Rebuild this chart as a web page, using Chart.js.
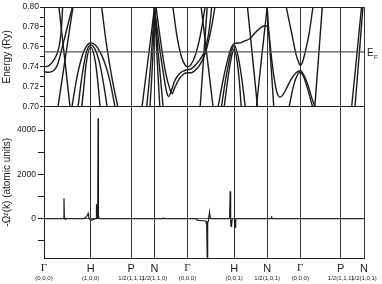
<!DOCTYPE html>
<html>
<head>
<meta charset="utf-8">
<script src="https://cdn.jsdelivr.net/npm/chart.js@4.4.1/dist/chart.umd.min.js"></script>
<style>
  html, body { margin: 0; padding: 0; background: #fff; }
  canvas { display: block; }
</style>
</head>
<body>
<canvas id="bands" width="382" height="284" style="width:382px;height:284px"></canvas>
<script>
// k-path (high symmetry points), in units of 2pi/a
const kTicks = [0, 1, 1.866, 2.366, 3.073, 4.073, 4.780, 5.487, 6.353, 6.853];
const symLabels = ['Γ', 'H', 'P', 'N', 'Γ', 'H', 'N', 'Γ', 'P', 'N'];
const coordLabels = ['(0,0,0)', '(1,0,0)', '1/2(1,1,1)', '1/2(1,1,0)', '(0,0,0)',
  '(0,0,1)', '1/2(1,0,1)', '(0,0,0)', '1/2(1,1,1)', '1/2(1,0,1)'];

const EF = 0.755;
const energyTicks = [0.70, 0.71, 0.72, 0.73, 0.74, 0.75, 0.76, 0.77, 0.78, 0.79, 0.80];
const berryTicks = [-1000, 0, 1000, 2000, 3000, 4000];

// bands, [k, E (Ry)]
const bandA = [[0,0.740],[0.1,0.741],[0.2,0.746],[0.28,0.753],[0.33,0.762],[0.37,0.777],[0.40,0.800]];
const bandB = [[0,0.735],[0.1,0.7345],[0.2,0.736],[0.28,0.741],[0.35,0.752],[0.42,0.765],[0.5,0.780],[0.58,0.795],[0.61,0.800]];
const lineC = [[0.32,0.800],[0.557,0.700]];
const lineD = [[0.30,0.700],[0.62,0.800]];
const hump1 = [[0.60,0.700],[0.70,0.728],[0.80,0.748],[0.90,0.760],[1.0,0.764],[1.1,0.762],[1.2,0.755],[1.3,0.744],[1.4,0.728],[1.52,0.700]];
const hump2 = [[0.73,0.700],[0.80,0.726],[0.90,0.753],[1.0,0.762],[1.1,0.757],[1.2,0.742],[1.3,0.716],[1.35,0.700]];
const hump3 = [[0.81,0.700],[0.85,0.718],[0.90,0.742],[1.0,0.760],[1.1,0.745],[1.15,0.726],[1.2,0.700]];
const lineE = [[1.236,0.800],[1.33,0.765],[1.45,0.730],[1.58,0.700]];
const nArm1 = [[2.10,0.700],[2.20,0.737],[2.30,0.774],[2.366,0.800]];
const nArm2 = [[2.20,0.700],[2.28,0.740],[2.366,0.800]];
const nArm3 = [[2.27,0.700],[2.33,0.750],[2.366,0.800]];
const nArmR1 = [[2.366,0.800],[2.42,0.750],[2.48,0.700]];
const nArmR2 = [[2.366,0.800],[2.45,0.752],[2.55,0.700]];
const vBand1 = [[2.366,0.800],[2.45,0.768],[2.55,0.735],[2.62,0.716],[2.666,0.710],[2.72,0.715],[2.80,0.726],[2.90,0.733],[3.0,0.736],[3.073,0.737]];
const vBand2 = [[2.40,0.800],[2.50,0.765],[2.60,0.735],[2.70,0.717],[2.74,0.713],[2.80,0.719],[2.90,0.728],[3.0,0.733],[3.073,0.734]];
const para1 = [[2.76,0.800],[2.85,0.770],[2.95,0.749],[3.02,0.742],[3.073,0.740],[3.15,0.7425],[3.25,0.753],[3.35,0.772],[3.45,0.800]];
const bandA2 = [[3.073,0.737],[3.15,0.738],[3.25,0.742],[3.35,0.748],[3.45,0.757],[3.52,0.772],[3.57,0.790],[3.59,0.800]];
const bandB2 = [[3.073,0.734],[3.15,0.734],[3.25,0.737],[3.35,0.743],[3.45,0.753],[3.52,0.765],[3.60,0.783],[3.66,0.800]];
const lineC2 = [[3.366,0.800],[3.62,0.700]];
const lineD2 = [[3.345,0.700],[3.495,0.800]];
const hump4 = [[3.73,0.700],[3.85,0.730],[3.95,0.750],[4.02,0.760],[4.073,0.7635],[4.2,0.764],[4.3,0.766],[4.41,0.7685],[4.5,0.773],[4.62,0.7786],[4.72,0.781],[4.78,0.781],
  [4.82,0.772],[4.87,0.750],[4.93,0.728],[4.99,0.714],[5.058,0.7095],[5.12,0.712],[5.2,0.719],[5.3,0.728],[5.4,0.734],[5.487,0.736],[5.55,0.733],[5.65,0.722],[5.74,0.708],[5.80,0.700]];
const hump5 = [[3.80,0.700],[3.90,0.730],[4.0,0.753],[4.073,0.7615],[4.15,0.752],[4.23,0.730],[4.31,0.700]];
const hump6 = [[3.86,0.700],[3.95,0.732],[4.02,0.751],[4.073,0.758],[4.13,0.747],[4.18,0.727],[4.223,0.700]];
const lineF = [[4.358,0.800],[4.572,0.700]];
const nArm4 = [[4.55,0.700],[4.65,0.745],[4.78,0.800]];
const nArm5 = [[4.78,0.800],[4.85,0.750],[4.92,0.700]];
const para2 = [[5.187,0.800],[5.25,0.786],[5.32,0.770],[5.40,0.752],[5.45,0.745],[5.487,0.7413],[5.53,0.744],[5.60,0.756],[5.68,0.774],[5.759,0.800]];
const capBand = [[5.25,0.700],[5.35,0.722],[5.43,0.732],[5.487,0.7345],[5.55,0.731],[5.65,0.717],[5.75,0.700]];
const lineG = [[5.80,0.700],[5.96,0.800]];
const pnLine1 = [[6.589,0.700],[6.70,0.752],[6.80,0.800]];
const pnLine2 = [[6.66,0.700],[6.75,0.752],[6.83,0.800]];

const bands = [bandA, bandB, lineC, lineD, hump1, hump2, hump3, lineE, nArm1, nArm2, nArm3,
  nArmR1, nArmR2, vBand1, vBand2, para1, bandA2, bandB2, lineC2, lineD2, hump4, hump5, hump6,
  lineF, nArm4, nArm5, para2, capBand, lineG, pnLine1, pnLine2];

// Berry curvature -Omega^z(k), atomic units
const berry = [[0,0],[0.40,0],[0.42,15],[0.428,920],[0.436,25],[0.45,-20],[0.47,0],
  [0.86,0],[0.90,80],[0.93,170],[0.945,240],[0.955,120],[0.965,0],[0.99,-40],[1.02,-60],[1.06,-30],
  [1.10,0],[1.115,0],[1.12,650],[1.128,30],[1.15,40],[1.158,4530],[1.166,100],[1.18,0],
  [2.54,0],[2.555,40],[2.57,0],
  [3.25,0],[3.28,-60],[3.40,-90],[3.47,-110],[3.485,-300],[3.495,-1730],[3.505,-200],[3.52,-100],[3.545,300],[3.56,20],[3.58,0],
  [3.95,0],[3.975,20],[3.987,1235],[3.997,-50],[4.005,-350],[4.015,-340],[4.03,0],[4.08,0],[4.095,-380],[4.105,-20],[4.12,0],
  [4.86,0],[4.875,70],[4.89,0],[6.853,0]];

const ink = '#1a1a1a';
const sans = "'Liberation Sans', Arial, sans-serif";
const toXY = (arr) => arr.map(p => ({ x: p[0], y: p[1] }));
const near = (a, b) => Math.abs(a - b) < 1e-6;

const datasets = [{
  data: toXY([[0, EF], [kTicks[kTicks.length - 1], EF]]),
  yAxisID: 'yE', borderColor: '#555', borderWidth: 1.3, pointRadius: 0
}];
bands.forEach(b => datasets.push({
  data: toXY(b), yAxisID: 'yE', borderColor: ink, borderWidth: 1.4,
  pointRadius: 0, cubicInterpolationMode: 'monotone'
}));
datasets.push({
  data: toXY(berry), yAxisID: 'yB', borderColor: ink, borderWidth: 1.2,
  pointRadius: 0, tension: 0
});

const setTicks = (vals) => (scale) => { scale.ticks = vals.map(v => ({ value: v })); };

// E_F marker and the small coordinate line under each k label
const extraText = {
  id: 'extraText',
  afterDraw(chart) {
    const ctx = chart.ctx;
    const area = chart.chartArea;
    const y = chart.scales.yE.getPixelForValue(EF);
    const x = area.right + 3;
    ctx.save();
    ctx.fillStyle = ink;
    ctx.textBaseline = 'middle';
    ctx.font = '10px ' + sans;
    ctx.fillText('E', x, y + 1);
    ctx.font = '6px ' + sans;
    ctx.fillText('F', x + 7, y + 5);

    const xs = chart.scales.x;
    ctx.textAlign = 'center';
    ctx.font = '6px ' + sans;
    kTicks.forEach((k, i) => {
      ctx.fillText(coordLabels[i], xs.getPixelForValue(k), area.bottom + 20);
    });
    ctx.restore();
  }
};

new Chart(document.getElementById('bands'), {
  type: 'line',
  data: { datasets },
  plugins: [extraText],
  options: {
    responsive: false,
    animation: false,
    devicePixelRatio: 1,
    layout: { padding: { top: 7, right: 18, bottom: 0, left: 0 } },
    plugins: { legend: { display: false }, tooltip: { enabled: false } },
    scales: {
      x: {
        type: 'linear', min: 0, max: 6.853, position: 'bottom',
        afterBuildTicks: setTicks(kTicks),
        afterFit: (s) => { s.height = 26; },
        grid: { color: '#333', lineWidth: 1, drawTicks: false },
        border: { color: ink },
        ticks: {
          autoSkip: false, maxRotation: 0, minRotation: 0, padding: 4, color: ink,
          callback: (v, i) => symLabels[i],
          font: (c) => ({
            family: symLabels[c.index] === 'Γ' ? "'Liberation Serif', serif" : sans,
            size: 11
          })
        }
      },
      yB: {
        type: 'linear', position: 'left', stack: 'panels', stackWeight: 151.5,
        min: -1770, max: 5060,
        afterBuildTicks: setTicks(berryTicks),
        afterFit: (s) => { s.width = 44; },
        grid: {
          color: (c) => (c.tick && near(c.tick.value, 0)) ? '#555' : 'rgba(0,0,0,0)',
          tickColor: ink, tickLength: 6
        },
        border: { color: ink },
        ticks: {
          autoSkip: false, color: ink, padding: 2, font: { family: sans, size: 8.5 },
          callback: (v) => (v % 2000 === 0 ? String(v) : '')
        },
        title: {
          display: true, text: '-Ωᶻ(k) (atomic units)', color: ink,
          font: { family: sans, size: 10 }, padding: { top: 1, bottom: 0 }
        }
      },
      yE: {
        type: 'linear', position: 'left', stack: 'panels', stackWeight: 99.5,
        min: 0.70, max: 0.80,
        afterBuildTicks: setTicks(energyTicks),
        afterFit: (s) => { s.width = 44; },
        grid: {
          color: (c) => (c.tick && (near(c.tick.value, 0.70) || near(c.tick.value, 0.80))) ? ink : 'rgba(0,0,0,0)',
          tickColor: ink, tickLength: 4
        },
        border: { color: ink },
        ticks: {
          autoSkip: false, color: ink, padding: 1, font: { family: sans, size: 8.5 },
          callback: (v) => (Math.round(v * 100) % 2 === 0 ? v.toFixed(2) : '')
        },
        title: {
          display: true, text: 'Energy (Ry)', color: ink,
          font: { family: sans, size: 10 }, padding: { top: 1, bottom: 0 }
        }
      }
    }
  }
});
</script>
</body>
</html>
